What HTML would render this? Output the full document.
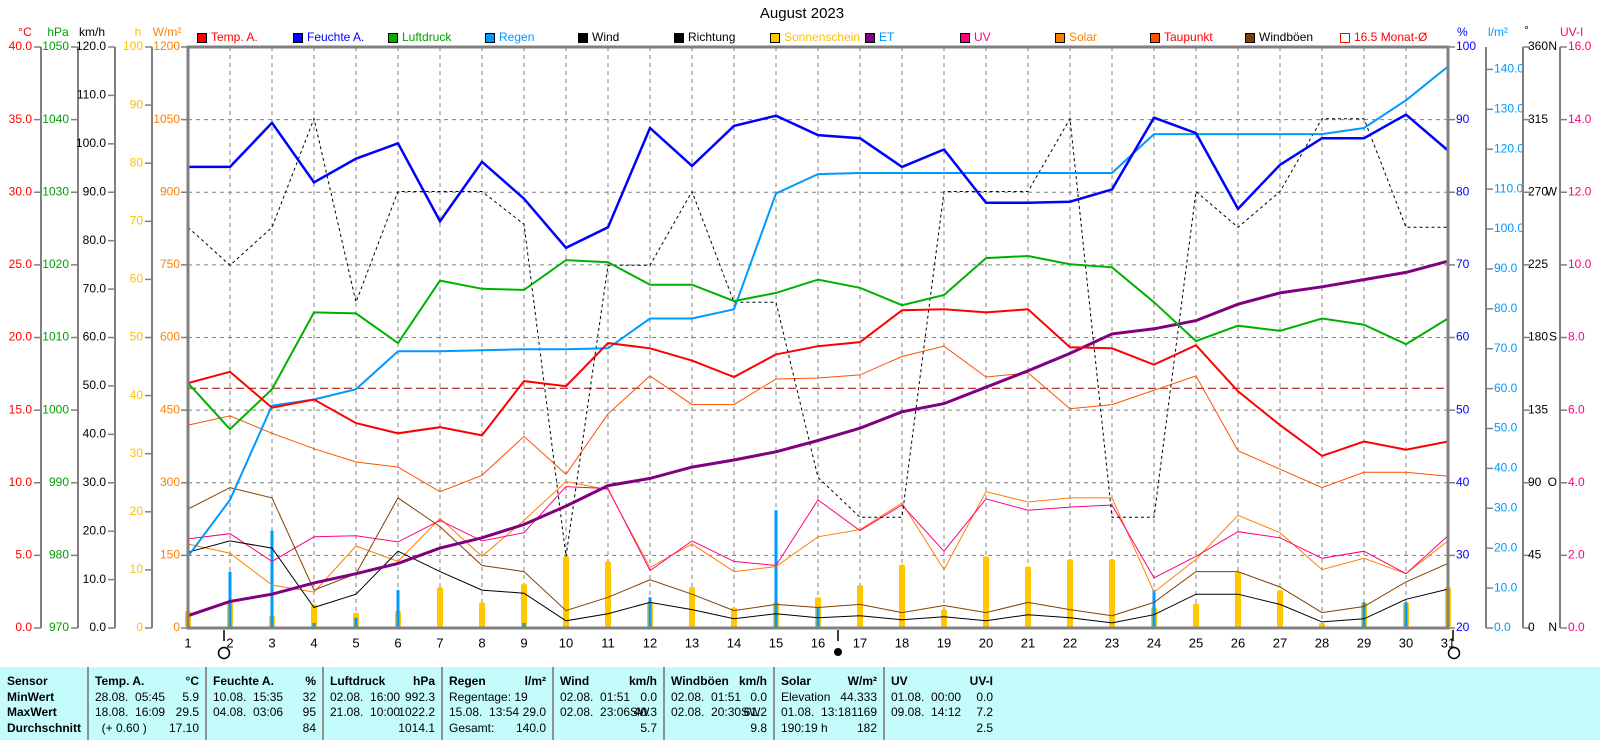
<!DOCTYPE html>
<html><head><meta charset="utf-8"><style>
body{margin:0;background:#fff;width:1600px;height:740px;overflow:hidden;font-family:"Liberation Sans",sans-serif;}
svg text{font-family:"Liberation Sans",sans-serif;}
#tbl{position:absolute;left:0;top:667px;width:1600px;height:73px;background:#c4fcfc;font-size:12px;}
.sep{position:absolute;top:0;width:2px;height:73px;background:#909090;}
.r{position:absolute;white-space:pre;}
.b{font-weight:bold;}
</style></head><body>
<svg id="s" width="1600" height="667" style="position:absolute;left:0;top:0"></svg>
<div id="tbl"></div>
<script>
const X=d=>188+42*(d-1);
const Y=p=>47+(p-48)*1.0247;
let o='';
const T=(x,y,t,c,a,fs,w)=>{o+=`<text x="${x}" y="${y}" fill="${c}" font-size="${fs||12}" text-anchor="${a||'start'}" dominant-baseline="middle"${w?' font-weight="bold"':''}>${t}</text>`;};
const L=(x1,y1,x2,y2,c,w,da)=>{o+=`<line x1="${x1}" y1="${y1}" x2="${x2}" y2="${y2}" stroke="${c}" stroke-width="${w||1}"${da?` stroke-dasharray="${da}"`:''}/>`;};
for(let d=2;d<=30;d++)L(X(d),47,X(d),628,'#808080',1,'4,4');
for(let k=1;k<8;k++){let y=47+72.625*k;L(188,y,1448,y,'#808080',1,'4,4');}
T(802,14,'August 2023','#000','middle',15);
const gy=(i,n)=>47+581*i/n;
function axL(x,vals,col){L(x,47,x,628,'#808080',2);vals.forEach((v,i)=>{let y=gy(i,vals.length-1);L(x-7,y,x,y,'#808080',1.5);T(x-9,y,v,col,'end');});}
axL(41,['40.0','35.0','30.0','25.0','20.0','15.0','10.0','5.0','0.0'],'#ff0000');
axL(78,['1050','1040','1030','1020','1010','1000','990','980','970'],'#00a000');
let km=[];for(let v=120;v>=0;v-=10)km.push(v.toFixed(1));axL(115,km,'#000');
let hh=[];for(let v=100;v>=0;v-=10)hh.push(v);axL(152,hh,'#ffc000');
let ww=[];for(let v=1200;v>=0;v-=150)ww.push(v);
ww.forEach((v,i)=>{let y=gy(i,8);L(181,y,188,y,'#808080',1.5);T(180,y,v,'#ff8000','end');});
T(25,33,'°C','#ff0000','middle');T(58,33,'hPa','#00a000','middle');T(92,33,'km/h','#000','middle');T(138,33,'h','#ffc000','middle');T(167,33,'W/m²','#ff8000','middle');
for(let i=0;i<=8;i++){let y=gy(i,8);L(1448,y,1455,y,'#808080',1.5);T(1456,y,100-10*i,'#0000ff');}
L(1486,47,1486,628,'#808080',2);
for(let v=0;v<=140;v+=10){let y=628-v*3.99;L(1486,y,1493,y,'#808080',1.5);T(1494,y,v.toFixed(1),'#0099ff');}
L(1523,47,1523,628,'#808080',2);
const dl=['360','315','270','225','180','135','90','45','0'],dd=['N','','W','','S','','O','','N'];
dl.forEach((v,i)=>{let y=gy(i,8);L(1523,y,1530,y,'#808080',1.5);T(1528,y,v,'#000');if(dd[i])T(1557,y,dd[i],'#000','end');});
L(1560,47,1560,628,'#808080',2);
for(let i=0;i<=8;i++){let y=gy(i,8);L(1560,y,1567,y,'#808080',1.5);T(1568,y,(16-2*i).toFixed(1),'#ff0080');}
T(1457,33,'%','#0000ff');T(1488,33,'l/m²','#0099ff');T(1524,31,'°','#000');T(1560,33,'UV-I','#ff0080');
const lg=[[197,'#ff0000','Temp. A.','#ff0000'],[293,'#0000ff','Feuchte A.','#0000ff'],[388,'#00b000','Luftdruck','#00a000'],[485,'#0099ff','Regen','#0099ff'],[578,'#000','Wind','#000'],[674,'#000','Richtung','#000'],[770,'#ffc800','Sonnenschein','#ffc000'],[865,'#800080','ET','#0099ff'],[960,'#ff0080','UV','#ff0080'],[1055,'#ff8000','Solar','#ff8000'],[1150,'#ff5000','Taupunkt','#ff0000'],[1245,'#804000','Windböen','#000'],[1340,'none','16.5 Monat-Ø','#ff0000']];
lg.forEach(l=>{o+=`<rect x="${l[0]+0.5}" y="33.5" width="9" height="9" fill="${l[1]}" stroke="${l[1]=='none'?'#ff0000':'#000'}"/>`;T(l[0]+14,38,l[2],l[3]);});
const sun=[598,590,603,592,600,598,575,590,572,545,550,590,575,595,590,585,573,553,597,545,555,548,548,595,591,560,578,610,590,590,575];
const rain={1:545,2:560,3:520,4:610,5:605,6:578,9:610,12:585,15:500,16:595,24:578,29:590,30:590};
sun.forEach((p,i)=>{let y=Y(p);o+=`<rect x="${X(i+1)-3}" y="${y}" width="6" height="${628-y}" rx="2" fill="#ffc800"/>`;});
for(const d in rain){let y=Y(rain[d]);o+=`<rect x="${X(+d)-1.5}" y="${y}" width="3" height="${628-y}" fill="#0099ff"/>`;}
L(188,Y(381),1448,Y(381),'#a00000',1,'8,4');
const P=(a,c,w,da)=>{o+=`<polyline fill="none" stroke="${c}" stroke-width="${w}"${da?` stroke-dasharray="${da}"`:''} points="${a.map((p,i)=>X(i+1)+','+Y(p).toFixed(1)).join(' ')}"/>`;};
P([533,542,573,580,535,550,508,545,510,472,480,556,533,560,555,526,519,493,558,482,492,488,488,580,548,505,522,558,547,562,530],'#ff8000',1);
P([417,408,425,440,453,458,482,466,428,465,406,369,397,397,372,371,368,350,340,370,366,401,397,383,369,442,460,478,463,463,467],'#ff5000',1);
P([528,523,550,526,525,531,510,530,522,477,479,559,530,550,554,490,520,495,540,489,500,497,495,566,545,521,527,547,540,562,525],'#ff0080',1);
P([499,478,488,578,562,488,516,554,560,598,585,568,582,598,592,595,592,600,593,600,590,597,603,590,560,560,575,600,594,570,552],'#804000',1);
P([541,530,537,595,582,540,560,578,581,608,601,590,597,606,601,605,603,607,604,608,602,605,610,602,582,582,592,609,606,587,577],'#000',1);
P([224,261,224,118,297,189,189,189,221,545,261,261,189,297,297,468,507,507,189,189,189,118,507,507,189,224,189,118,118,224,224],'#000',1,'3,3');
P([603,589,582,571,562,552,537,527,514,496,476,469,458,451,443,432,420,404,396,380,364,347,328,323,315,299,288,282,275,268,257],'#800080',3);
P([545,490,398,392,382,345,345,344,343,343,342,313,313,304,191,172,171,171,171,171,171,171,171,133,133,133,133,133,127,100,67],'#0099ff',2);
P([376,421,382,307,308,337,276,284,285,256,258,280,280,296,288,275,283,300,290,254,252,260,263,297,335,320,325,313,319,338,313],'#00b000',2);
P([376,365,400,392,415,425,419,427,374,379,337,342,354,370,348,340,336,305,304,307,304,341,342,358,339,384,417,447,433,441,433],'#ff0000',2);
P([165,165,122,180,157,142,218,160,196,244,224,127,164,125,115,134,137,165,148,200,200,199,187,117,132,206,163,137,137,114,149],'#0000ff',2.5);
o+=`<rect x="188" y="47" width="1260" height="581" fill="none" stroke="#808080" stroke-width="3"/>`;
for(let d=1;d<=31;d++)T(X(d),644,d,'#000','middle',13);
L(224,630,224,641,'#000',1.5);L(838,630,838,641,'#000',1.5);L(1453,630,1453,641,'#000',1.5);
o+=`<circle cx="224" cy="653" r="5.5" fill="none" stroke="#000" stroke-width="1.5"/><circle cx="838" cy="652" r="4" fill="#000"/><circle cx="1454" cy="653" r="5.5" fill="none" stroke="#000" stroke-width="1.5"/>`;
document.getElementById('s').innerHTML=o;
const cols=[
[0,88,[['Sensor','',1],['MinWert','',1],['MaxWert','',1],['Durchschnitt','',1]]],
[88,206,[['Temp. A.','°C',1],['28.08.  05:45','5.9'],['18.08.  16:09','29.5'],['  (+ 0.60 )','17.10']]],
[206,323,[['Feuchte A.','%',1],['10.08.  15:35','32'],['04.08.  03:06','95'],['','84']]],
[323,442,[['Luftdruck','hPa',1],['02.08.  16:00','992.3'],['21.08.  10:00','1022.2'],['','1014.1']]],
[442,553,[['Regen','l/m²',1],['Regentage: 19',''],['15.08.  13:54','29.0'],['Gesamt:','140.0']]],
[553,664,[['Wind','km/h',1],['02.08.  01:51','0.0'],['02.08.  23:06SW','40.3'],['','5.7']]],
[664,774,[['Windböen','km/h',1],['02.08.  01:51','0.0'],['02.08.  20:30SW','61.2'],['','9.8']]],
[774,884,[['Solar','W/m²',1],['Elevation','44.333'],['01.08.  13:18','1169'],['190:19 h','182']]],
[884,1000,[['UV','UV-I',1],['01.08.  00:00','0.0'],['09.08.  14:12','7.2'],['','2.5']]]];
let h='';
cols.forEach((c,ci)=>{if(ci>0)h+=`<div class="sep" style="left:${c[0]-1}px"></div>`;
c[2].forEach((r,ri)=>{let t=ri*15.5+7;h+=`<div class="r${r[2]?' b':''}" style="left:${c[0]+7}px;top:${t}px">${r[0]}</div>`;
if(r[1])h+=`<div class="r${r[2]?' b':''}" style="right:${1600-c[1]+7}px;top:${t}px">${r[1]}</div>`;});});
document.getElementById('tbl').innerHTML=h;
</script>
</body></html>
